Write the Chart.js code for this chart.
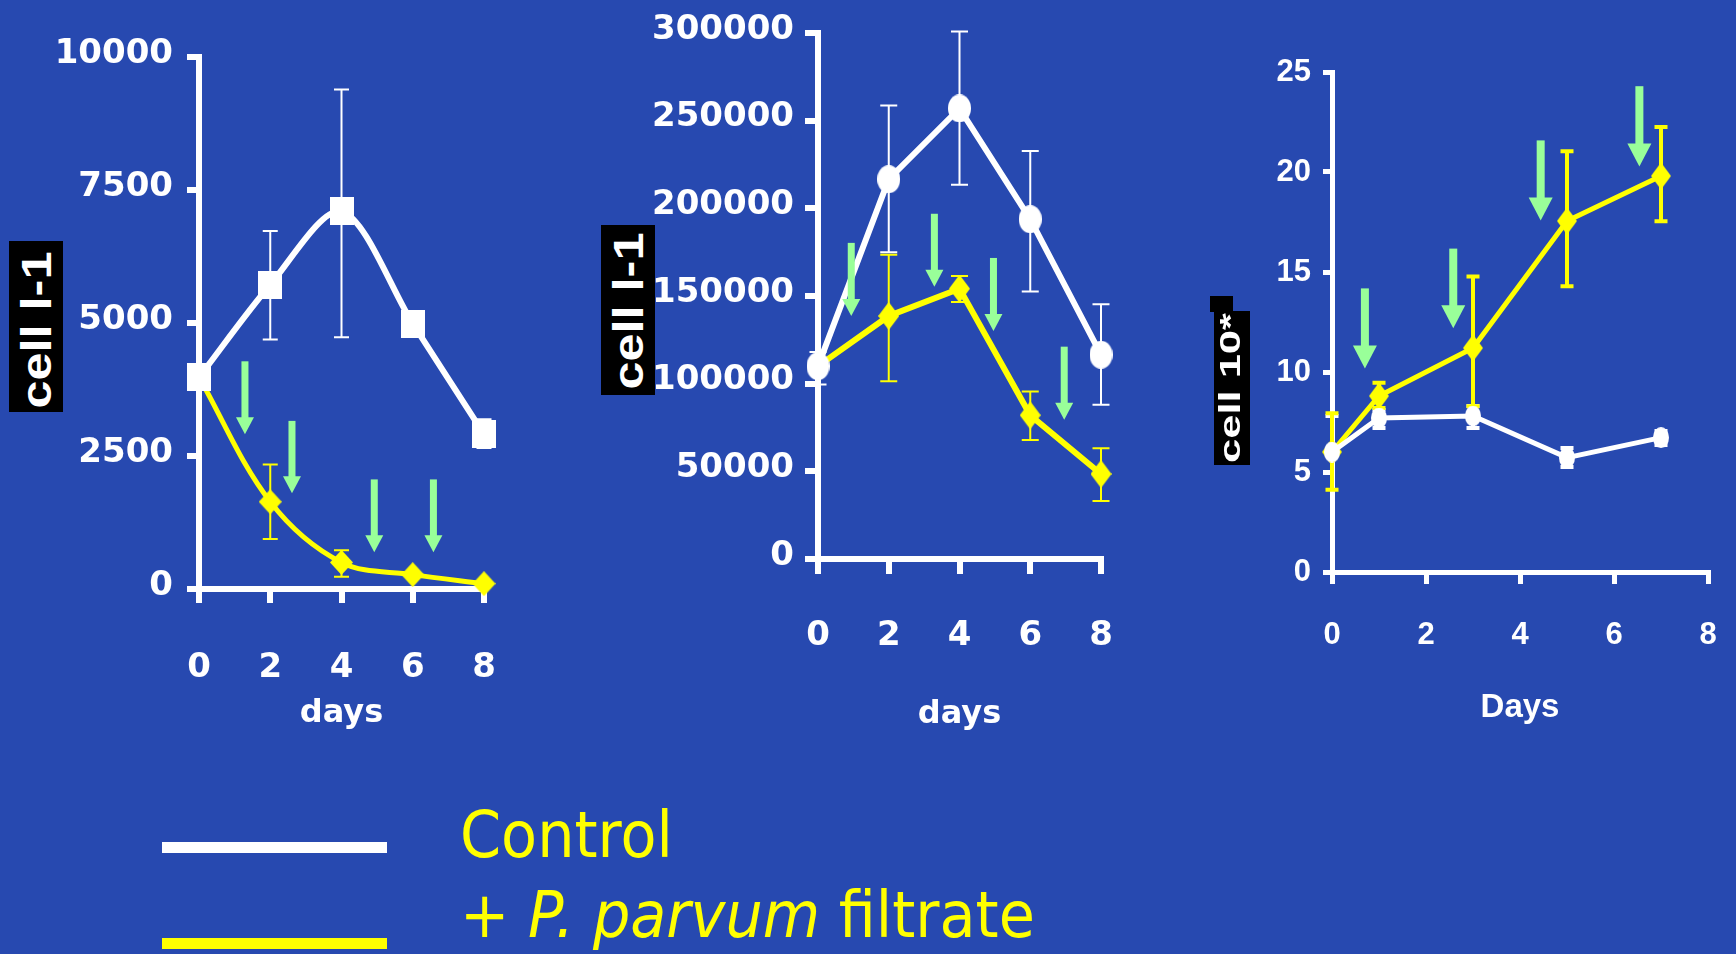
<!DOCTYPE html>
<html><head><meta charset="utf-8">
<script src="https://cdn.jsdelivr.net/npm/chart.js@4"></script>
<style>
html,body{margin:0;padding:0;width:1736px;height:954px;overflow:hidden;background:#2749B0;}
body{position:relative;}
canvas{position:absolute;left:0;top:0;}
.box{position:absolute;background:#000;}
.vt{position:absolute;color:#fff;white-space:nowrap;font-weight:bold;font-family:"Liberation Sans",Arial,sans-serif;}
.bar{position:absolute;left:162px;width:225px;height:11px;}
.leg{position:absolute;left:460px;font-family:"DejaVu Sans",sans-serif;color:#ffff00;font-size:64px;line-height:64px;white-space:nowrap;transform:scaleX(0.92);transform-origin:0 0;}
</style></head>
<body>
<canvas id="c1" width="1800" height="954"></canvas>
<canvas id="c2" width="1800" height="954"></canvas>
<canvas id="c3" width="1800" height="954"></canvas>

<div class="box" style="left:9px;top:241px;width:54px;height:171px;"></div>
<div class="vt" style="left:37px;top:330px;font-size:42px;line-height:42px;transform:translate(-50%,-50%) rotate(-90deg) scaleX(1.2);">cell l-1</div>

<div class="box" style="left:601px;top:225px;width:54px;height:170px;"></div>
<div class="vt" style="left:629px;top:311px;font-size:42px;line-height:42px;transform:translate(-50%,-50%) rotate(-90deg) scaleX(1.2);">cell l-1</div>

<div class="box" style="left:1210px;top:296px;width:23px;height:16px;"></div>
<div class="box" style="left:1214px;top:311px;width:36px;height:154px;"></div>
<div class="vt" style="left:1230px;top:388px;font-size:29px;line-height:29px;transform:translate(-50%,-50%) rotate(-90deg) scaleX(1.5);">cell 10*</div>

<div class="bar" style="top:842px;background:#ffffff;"></div>
<div class="bar" style="top:938px;background:#ffff00;"></div>
<div class="leg" style="top:803px;">Control</div>
<div class="leg" style="top:883px;">+ <i>P. parvum</i> filtrate</div>

<script>
// ---------- Panel 1 ----------
const p1Days = [0, 2, 4, 6, 8];
const p1Control = [3980, 5720, 7100, 4990, 2910];
const p1ControlHi = [null, 6730, 9390, null, 3190];
const p1ControlLo = [null, 4690, 4730, null, 2650];
const p1Filtrate = [3980, 1640, 500, 270, 100];
const p1FiltrateHi = [null, 2340, 730, null, null];
const p1FiltrateLo = [null, 940, 230, null, null];
const p1ArrowDay = [1.29, 2.61, 4.92, 6.58];
const p1ArrowTop = [4280, 3160, 2060, 2060];
const p1ArrowTip = [2910, 1800, 690, 690];
const p1YTicks = [0, 2500, 5000, 7500, 10000];
const p1XTicks = [0, 2, 4, 6, 8];

// ---------- Panel 2 ----------
const p2Days = [0, 2, 4, 6, 8];
const p2Control = [110000, 216600, 257000, 193800, 116500];
const p2ControlHi = [118000, 258600, 300800, 232700, 145300];
const p2ControlLo = [99500, 174900, 213400, 152600, 88000];
const p2Filtrate = [110000, 138600, 154200, 82000, 48500];
const p2FiltrateHi = [null, 173500, 161400, 95500, 63200];
const p2FiltrateLo = [null, 101400, 146600, 67800, 33100];
const p2ArrowDay = [0.94, 3.29, 4.96, 6.96];
const p2ArrowTop = [180300, 196900, 171700, 121100];
const p2ArrowTip = [138600, 155300, 130000, 79400];
const p2YTicks = [0, 50000, 100000, 150000, 200000, 250000, 300000];
const p2XTicks = [0, 2, 4, 6, 8];

// ---------- Panel 3 ----------
const p3Days = [0, 1, 3, 5, 7];
const p3Control = [6.0, 7.7, 7.8, 5.72, 6.72];
const p3ControlHi = [7.8, 8.1, 8.3, 6.2, 7.05];
const p3ControlLo = [null, 7.2, 7.2, 5.25, 6.35];
const p3Filtrate = [6.0, 8.8, 11.2, 17.55, 19.8];
const p3FiltrateHi = [7.94, 9.46, 14.78, 21.04, 22.25];
const p3FiltrateLo = [4.11, 8.2, 8.29, 14.29, 17.54];
const p3ArrowDay = [0.70, 2.58, 4.44, 6.54];
const p3ArrowTop = [14.18, 16.17, 21.58, 24.29];
const p3ArrowTip = [10.17, 12.19, 17.58, 20.28];
const p3YTicks = [0, 5, 10, 15, 20, 25];
const p3XTicks = [0, 2, 4, 6, 8];

const WHITE = '#ffffff', YELLOW = '#ffff00', GREEN = '#99ff99';
const FONT_A = '"DejaVu Sans", sans-serif';
const FONT_B = '"Liberation Sans", Arial, sans-serif';
const YW = 190;
const CW = 1800, CH = 954;

function marker(shape, w, h, color) {
  const c = document.createElement('canvas');
  c.width = w; c.height = h;
  const g = c.getContext('2d');
  g.fillStyle = color;
  g.beginPath();
  if (shape === 'rect') g.rect(0, 0, w, h);
  else if (shape === 'ellipse') g.ellipse(w / 2, h / 2, w / 2, h / 2, 0, 0, Math.PI * 2);
  else { g.moveTo(w / 2, 0); g.lineTo(w, h / 2); g.lineTo(w / 2, h); g.lineTo(0, h / 2); g.closePath(); }
  g.fill();
  return c;
}

function buildChart(id, p) {
  const errPlugin = {
    id: 'errbars',
    beforeDatasetsDraw(chart) {
      const ctx = chart.ctx, xs = chart.scales.x, ys = chart.scales.y;
      p.series.forEach(s => {
        ctx.save();
        ctx.strokeStyle = s.color; ctx.lineWidth = p.errWidth; ctx.lineCap = 'butt';
        p.days.forEach((d, i) => {
          const hi = s.hi[i], lo = s.lo[i];
          if (hi == null && lo == null) return;
          const px = xs.getPixelForValue(d);
          const yh = ys.getPixelForValue(hi == null ? s.values[i] : hi);
          const yl = ys.getPixelForValue(lo == null ? s.values[i] : lo);
          ctx.beginPath();
          ctx.moveTo(px, yh); ctx.lineTo(px, yl);
          if (hi != null) { ctx.moveTo(px - p.cap / 2, yh); ctx.lineTo(px + p.cap / 2, yh); }
          if (lo != null) { ctx.moveTo(px - p.cap / 2, yl); ctx.lineTo(px + p.cap / 2, yl); }
          ctx.stroke();
        });
        ctx.restore();
      });
    }
  };
  const arrowPlugin = {
    id: 'arrows',
    afterDatasetsDraw(chart) {
      const ctx = chart.ctx, xs = chart.scales.x, ys = chart.scales.y;
      ctx.save();
      ctx.fillStyle = GREEN;
      p.arrows.day.forEach((d, i) => {
        const x = xs.getPixelForValue(d);
        const yt = ys.getPixelForValue(p.arrows.top[i]);
        const yp = ys.getPixelForValue(p.arrows.tip[i]);
        const a = p.arrows;
        ctx.fillRect(x - a.shaft / 2, yt, a.shaft, yp - a.headH - yt + 1);
        ctx.beginPath();
        ctx.moveTo(x - a.headW / 2, yp - a.headH);
        ctx.lineTo(x + a.headW / 2, yp - a.headH);
        ctx.lineTo(x, yp);
        ctx.closePath();
        ctx.fill();
      });
      ctx.restore();
    }
  };
  const axisCommon = (tl, aw) => ({
    grid: { drawOnChartArea: false, drawTicks: true, tickLength: tl, tickWidth: aw, tickColor: WHITE, color: WHITE, lineWidth: aw },
    border: { display: true, color: WHITE, width: aw }
  });
  return new Chart(document.getElementById(id), {
    type: 'line',
    data: {
      datasets: p.series.map(s => ({
        data: p.days.map((d, i) => ({ x: d, y: s.values[i] })),
        borderColor: s.color, backgroundColor: s.color, borderWidth: s.lw,
        tension: s.tension, pointStyle: s.marker, pointRadius: 10, pointHoverRadius: 10,
        clip: false, fill: false
      }))
    },
    options: {
      responsive: false, animation: false, events: [],
      layout: { padding: { left: p.L - YW, right: CW - p.R, top: p.T, bottom: CH - p.B - p.xh } },
      plugins: { legend: { display: false }, tooltip: { enabled: false } },
      scales: {
        x: Object.assign({
          type: 'linear', min: p.xTicks[0], max: p.xTicks[p.xTicks.length - 1],
          afterFit: s => { s.height = p.xh; },
          afterBuildTicks: s => { s.ticks = p.xTicks.map(v => ({ value: v })); },
          ticks: { color: WHITE, font: { family: p.font, size: p.fs, weight: 'bold' }, padding: p.xPad, maxRotation: 0, autoSkip: false, callback: v => String(v) },
          title: { display: true, text: p.xTitle, color: WHITE, font: { family: p.font, size: p.ts, weight: 'bold' }, padding: { top: 0, bottom: 0 } }
        }, axisCommon(p.xTl, p.aw)),
        y: Object.assign({
          type: 'linear', min: p.yTicks[0], max: p.yTicks[p.yTicks.length - 1],
          afterFit: s => { s.width = YW; },
          afterBuildTicks: s => { s.ticks = p.yTicks.map(v => ({ value: v })); },
          ticks: { color: WHITE, font: { family: p.font, size: p.fs, weight: 'bold' }, padding: p.yPad, labelOffset: p.yOff, autoSkip: false, callback: v => String(v) }
        }, axisCommon(p.yTl, p.aw))
      }
    },
    plugins: [errPlugin, arrowPlugin]
  });
}

buildChart('c1', {
  L: 199, R: 484, T: 57, B: 589, xh: 144, aw: 6, xTl: 14, yTl: 12, xPad: 45, yPad: 14, yOff: -3,
  font: FONT_A, fs: 34, ts: 32, xTitle: 'days', errWidth: 2, cap: 15,
  days: p1Days, xTicks: p1XTicks, yTicks: p1YTicks,
  series: [
    { values: p1Control, hi: p1ControlHi, lo: p1ControlLo, color: WHITE, lw: 6, tension: 0.3, marker: marker('rect', 24, 28, WHITE) },
    { values: p1Filtrate, hi: p1FiltrateHi, lo: p1FiltrateLo, color: YELLOW, lw: 5, tension: 0.35, marker: marker('diamond', 23, 25, YELLOW) }
  ],
  arrows: { day: p1ArrowDay, top: p1ArrowTop, tip: p1ArrowTip, shaft: 7, headW: 18, headH: 17 }
});

buildChart('c2', {
  L: 818, R: 1101, T: 33, B: 559, xh: 175, aw: 6, xTl: 15, yTl: 13, xPad: 42, yPad: 11, yOff: -3,
  font: FONT_A, fs: 34, ts: 32, xTitle: 'days', errWidth: 2, cap: 17,
  days: p2Days, xTicks: p2XTicks, yTicks: p2YTicks,
  series: [
    { values: p2Control, hi: p2ControlHi, lo: p2ControlLo, color: WHITE, lw: 6, tension: 0, marker: marker('ellipse', 23, 28, WHITE) },
    { values: p2Filtrate, hi: p2FiltrateHi, lo: p2FiltrateLo, color: YELLOW, lw: 6, tension: 0, marker: marker('diamond', 21, 28, YELLOW) }
  ],
  arrows: { day: p2ArrowDay, top: p2ArrowTop, tip: p2ArrowTip, shaft: 7, headW: 18, headH: 17 }
});

buildChart('c3', {
  L: 1332, R: 1708, T: 72, B: 572, xh: 156, aw: 5, xTl: 12, yTl: 9, xPad: 33, yPad: 12, yOff: 0,
  font: FONT_B, fs: 31, ts: 33, xTitle: 'Days', errWidth: 4, cap: 13,
  days: p3Days, xTicks: p3XTicks, yTicks: p3YTicks,
  series: [
    { values: p3Control, hi: p3ControlHi, lo: p3ControlLo, color: WHITE, lw: 5, tension: 0, marker: marker('ellipse', 16, 21, WHITE) },
    { values: p3Filtrate, hi: p3FiltrateHi, lo: p3FiltrateLo, color: YELLOW, lw: 5, tension: 0, marker: marker('diamond', 20, 27, YELLOW) }
  ],
  arrows: { day: p3ArrowDay, top: p3ArrowTop, tip: p3ArrowTip, shaft: 8, headW: 24, headH: 23 }
});
</script>
</body></html>
